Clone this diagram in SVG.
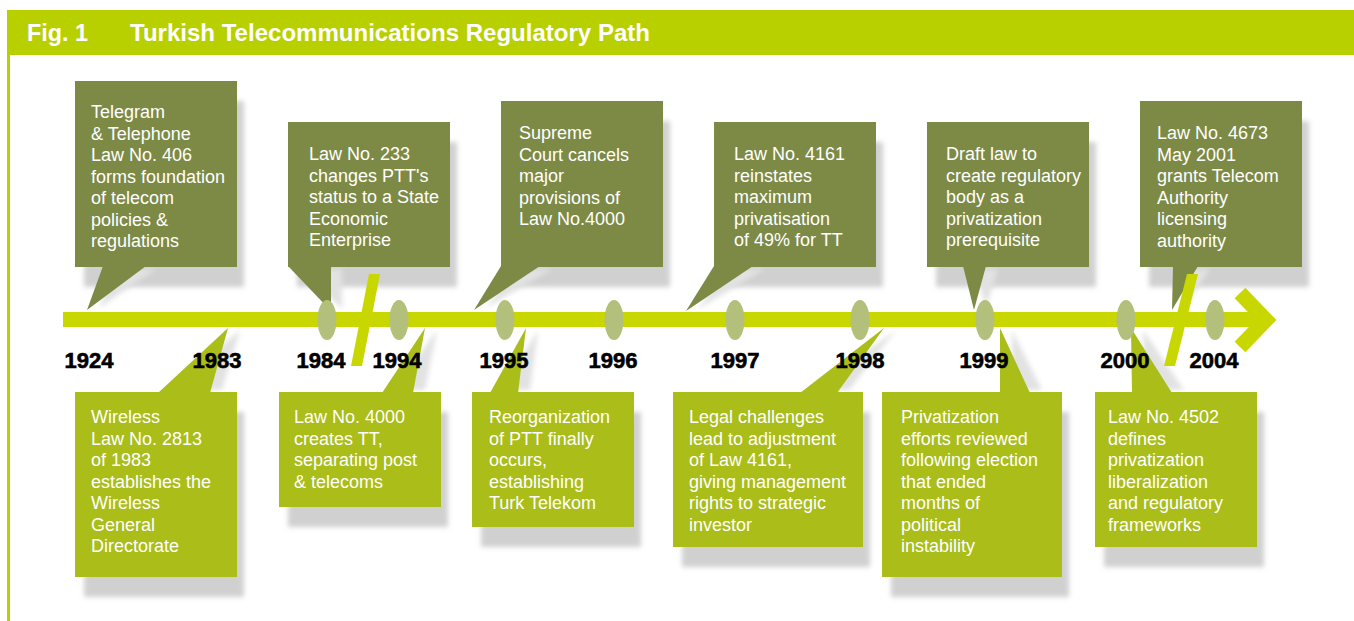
<svg xmlns="http://www.w3.org/2000/svg" width="1354" height="621" viewBox="0 0 1354 621">
<style>
.hdr{font-family:"Liberation Sans",Arial,sans-serif;font-weight:bold;font-size:23px;fill:#ffffff}
.t{font-family:"Liberation Sans",Arial,sans-serif;font-size:18px;fill:#ffffff}
.yr{font-family:"Liberation Sans",Arial,sans-serif;font-weight:bold;font-size:22px;fill:#000000;stroke:#000000;stroke-width:0.6;text-anchor:middle}
.top{fill:#7d8a45}
.bot{fill:#aabd19}
.sh{fill:#d0d0d0;filter:url(#blur)}
.tsh{fill:#e2e2e2;filter:url(#blur)}
.bar{fill:#c8d700}
.mk{fill:#b3c07b}
</style>
<defs>
<filter id="blur" x="-20%" y="-20%" width="140%" height="140%"><feGaussianBlur stdDeviation="2.5"/></filter>
</defs>
<rect x="0" y="0" width="1354" height="621" fill="#ffffff"/>
<g id="header">
<rect x="7" y="10" width="1347" height="45" fill="#b9d000"/>
<rect x="7" y="55" width="3" height="566" fill="#b9d000"/>
<text class="hdr" x="27" y="41" textLength="61" lengthAdjust="spacingAndGlyphs">Fig. 1</text>
<text class="hdr" x="130" y="41" textLength="520" lengthAdjust="spacingAndGlyphs">Turkish Telecommunications Regulatory Path</text>
</g>
<g id="shadows">
<rect class="sh" x="84" y="101" width="160" height="186"/>
<rect class="sh" x="297" y="142" width="160" height="145"/>
<rect class="sh" x="510" y="121" width="160" height="166"/>
<rect class="sh" x="723" y="142" width="160" height="145"/>
<rect class="sh" x="936" y="142" width="160" height="145"/>
<rect class="sh" x="1149" y="121" width="160" height="166"/>
<rect class="sh" x="84" y="412" width="160" height="185"/>
<rect class="sh" x="288" y="412" width="160" height="115"/>
<rect class="sh" x="481" y="412" width="160" height="135"/>
<rect class="sh" x="682" y="412" width="188" height="155"/>
<rect class="sh" x="891" y="412" width="178" height="185"/>
<rect class="sh" x="1104" y="412" width="160" height="155"/>
</g>
<g id="connectors">
<polygon class="tsh" points="115,269 156,269 99,308"/>
<polygon class="tsh" points="300,269 342,269 342,309"/>
<polygon class="tsh" points="513,269 552,269 486,308"/>
<polygon class="tsh" points="726,269 765,269 698,309"/>
<polygon class="tsh" points="975,269 998,269 986,308"/>
<polygon class="tsh" points="1185,269 1210,269 1184,308"/>
<polygon class="tsh" points="170,390 222,390 240,330"/>
<polygon class="tsh" points="394,390 425,390 437,330"/>
<polygon class="tsh" points="502,390 530,390 538,330"/>
<polygon class="tsh" points="812,390 849,390 896,330"/>
<polygon class="tsh" points="1012,390 1042,390 1012,330"/>
<polygon class="tsh" points="1144,390 1184,390 1143,330"/>
<polygon class="top" points="103,266 146,266 87,310"/>
<polygon class="top" points="288,266 331,266 331,311"/>
<polygon class="top" points="501,266 540,266 474,310"/>
<polygon class="top" points="714,266 753,266 686,311"/>
<polygon class="top" points="963,266 986,266 974,310"/>
<polygon class="top" points="1173,266 1198,266 1172,310"/>
<polygon class="bot" points="158,393 210,393 228,328"/>
<polygon class="bot" points="382,393 413,393 425,328"/>
<polygon class="bot" points="490,393 518,393 526,328"/>
<polygon class="bot" points="800,393 837,393 884,328"/>
<polygon class="bot" points="1000,393 1030,393 1000,328"/>
<polygon class="bot" points="1132,393 1172,393 1131,328"/>
</g>
<g id="n1924">
<rect class="top" x="75" y="81" width="162" height="186"/>
<text class="t" x="91" y="118">Telegram</text>
<text class="t" x="91" y="139.5">&amp; Telephone</text>
<text class="t" x="91" y="161">Law No. 406</text>
<text class="t" x="91" y="182.5">forms foundation</text>
<text class="t" x="91" y="204">of telecom</text>
<text class="t" x="91" y="225.5">policies &amp;</text>
<text class="t" x="91" y="247">regulations</text>
</g>
<g id="n1984">
<rect class="top" x="288" y="122" width="162" height="145"/>
<text class="t" x="309" y="160">Law No. 233</text>
<text class="t" x="309" y="181.5">changes PTT's</text>
<text class="t" x="309" y="203">status to a State</text>
<text class="t" x="309" y="224.5">Economic</text>
<text class="t" x="309" y="246">Enterprise</text>
</g>
<g id="n1995a">
<rect class="top" x="501" y="101" width="162" height="166"/>
<text class="t" x="519" y="139">Supreme</text>
<text class="t" x="519" y="160.5">Court cancels</text>
<text class="t" x="519" y="182">major</text>
<text class="t" x="519" y="203.5">provisions of</text>
<text class="t" x="519" y="225">Law No.4000</text>
</g>
<g id="n1997">
<rect class="top" x="714" y="122" width="162" height="145"/>
<text class="t" x="734" y="160">Law No. 4161</text>
<text class="t" x="734" y="181.5">reinstates</text>
<text class="t" x="734" y="203">maximum</text>
<text class="t" x="734" y="224.5">privatisation</text>
<text class="t" x="734" y="246">of 49% for TT</text>
</g>
<g id="n1999a">
<rect class="top" x="927" y="122" width="162" height="145"/>
<text class="t" x="946" y="160">Draft law to</text>
<text class="t" x="946" y="181.5">create regulatory</text>
<text class="t" x="946" y="203">body as a</text>
<text class="t" x="946" y="224.5">privatization</text>
<text class="t" x="946" y="246">prerequisite</text>
</g>
<g id="n2004">
<rect class="top" x="1140" y="101" width="162" height="166"/>
<text class="t" x="1157" y="139">Law No. 4673</text>
<text class="t" x="1157" y="160.5">May 2001</text>
<text class="t" x="1157" y="182">grants Telecom</text>
<text class="t" x="1157" y="203.5">Authority</text>
<text class="t" x="1157" y="225">licensing</text>
<text class="t" x="1157" y="246.5">authority</text>
</g>
<g id="n1983">
<rect class="bot" x="75" y="392" width="162" height="185"/>
<text class="t" x="91" y="423">Wireless</text>
<text class="t" x="91" y="444.5">Law No. 2813</text>
<text class="t" x="91" y="466">of 1983</text>
<text class="t" x="91" y="487.5">establishes the</text>
<text class="t" x="91" y="509">Wireless</text>
<text class="t" x="91" y="530.5">General</text>
<text class="t" x="91" y="552">Directorate</text>
</g>
<g id="n1994">
<rect class="bot" x="279" y="392" width="162" height="115"/>
<text class="t" x="294" y="423">Law No. 4000</text>
<text class="t" x="294" y="444.5">creates TT,</text>
<text class="t" x="294" y="466">separating post</text>
<text class="t" x="294" y="487.5">&amp; telecoms</text>
</g>
<g id="n1995b">
<rect class="bot" x="472" y="392" width="162" height="135"/>
<text class="t" x="489" y="423">Reorganization</text>
<text class="t" x="489" y="444.5">of PTT finally</text>
<text class="t" x="489" y="466">occurs,</text>
<text class="t" x="489" y="487.5">establishing</text>
<text class="t" x="489" y="509">Turk Telekom</text>
</g>
<g id="n1998">
<rect class="bot" x="673" y="392" width="190" height="155"/>
<text class="t" x="689" y="423">Legal challenges</text>
<text class="t" x="689" y="444.5">lead to adjustment</text>
<text class="t" x="689" y="466">of Law 4161,</text>
<text class="t" x="689" y="487.5">giving management</text>
<text class="t" x="689" y="509">rights to strategic</text>
<text class="t" x="689" y="530.5">investor</text>
</g>
<g id="n1999b">
<rect class="bot" x="882" y="392" width="180" height="185"/>
<text class="t" x="901" y="423">Privatization</text>
<text class="t" x="901" y="444.5">efforts reviewed</text>
<text class="t" x="901" y="466">following election</text>
<text class="t" x="901" y="487.5">that ended</text>
<text class="t" x="901" y="509">months of</text>
<text class="t" x="901" y="530.5">political</text>
<text class="t" x="901" y="552">instability</text>
</g>
<g id="n2000">
<rect class="bot" x="1095" y="392" width="162" height="155"/>
<text class="t" x="1108" y="423">Law No. 4502</text>
<text class="t" x="1108" y="444.5">defines</text>
<text class="t" x="1108" y="466">privatization</text>
<text class="t" x="1108" y="487.5">liberalization</text>
<text class="t" x="1108" y="509">and regulatory</text>
<text class="t" x="1108" y="530.5">frameworks</text>
</g>
<g id="timeline">
<rect class="bar" x="63" y="312" width="1200" height="15"/>
<polyline points="1240,293 1266,320 1240,347" fill="none" stroke="#c8d700" stroke-width="15" stroke-linejoin="miter" stroke-miterlimit="4"/>
<polygon class="bar" points="369,274 380,274 362,366 351,366"/>
<polygon class="bar" points="1187,274 1198,274 1175,366 1164,366"/>
<ellipse class="mk" cx="327" cy="320" rx="9.5" ry="20"/>
<ellipse class="mk" cx="399" cy="320" rx="9.5" ry="20"/>
<ellipse class="mk" cx="505" cy="320" rx="9.5" ry="20"/>
<ellipse class="mk" cx="614" cy="320" rx="9.5" ry="20"/>
<ellipse class="mk" cx="735" cy="320" rx="9.5" ry="20"/>
<ellipse class="mk" cx="860" cy="320" rx="9.5" ry="20"/>
<ellipse class="mk" cx="985" cy="320" rx="9.5" ry="20"/>
<ellipse class="mk" cx="1126" cy="320" rx="9.5" ry="20"/>
<ellipse class="mk" cx="1215" cy="320" rx="9.5" ry="20"/>
</g>
<g id="years">
<text class="yr" x="89" y="368">1924</text>
<text class="yr" x="217" y="368">1983</text>
<text class="yr" x="321" y="368">1984</text>
<text class="yr" x="397" y="368">1994</text>
<text class="yr" x="504" y="368">1995</text>
<text class="yr" x="613" y="368">1996</text>
<text class="yr" x="735" y="368">1997</text>
<text class="yr" x="860" y="368">1998</text>
<text class="yr" x="984" y="368">1999</text>
<text class="yr" x="1125" y="368">2000</text>
<text class="yr" x="1214" y="368">2004</text>
</g>
</svg>
